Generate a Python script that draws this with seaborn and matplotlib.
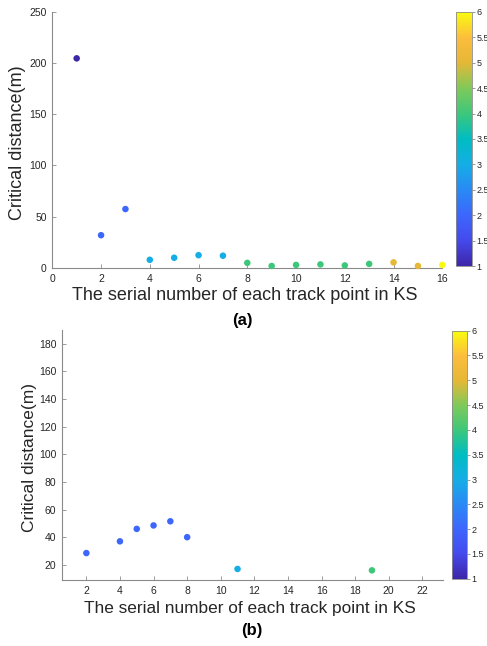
import numpy as np
import pandas as pd
import matplotlib
matplotlib.use("Agg")
import matplotlib.pyplot as plt
from matplotlib.colors import LinearSegmentedColormap, Normalize
from matplotlib.cm import ScalarMappable
import seaborn as sns

# ---- data (panel a) ----
x_a = [1, 2, 3, 4, 5, 6, 7, 8, 9, 10, 11, 12, 13, 14, 15, 16]
y_a = [204.5, 32, 57.5, 8, 10, 12.5, 12, 5, 2, 3, 3.5, 2.5, 4, 5.5, 2, 3]
c_a = [1, 2, 2, 3, 3, 3, 3, 4, 4, 4, 4, 4, 4, 5, 5, 6]

# ---- data (panel b) ----
x_b = [2, 4, 5, 6, 7, 8, 11, 19]
y_b = [28.5, 37, 46, 48.5, 51.5, 40, 17, 16]
c_b = [2, 2, 2, 2, 2, 2, 3, 4]

xticks_a = [0, 2, 4, 6, 8, 10, 12, 14, 16]
yticks_a = [0, 50, 100, 150, 200, 250]
xticks_b = [2, 4, 6, 8, 10, 12, 14, 16, 18, 20, 22]
yticks_b = [20, 40, 60, 80, 100, 120, 140, 160, 180]
cticks = [1, 1.5, 2, 2.5, 3, 3.5, 4, 4.5, 5, 5.5, 6]
ctick_labels = ["1", "1.5", "2", "2.5", "3", "3.5", "4", "4.5", "5", "5.5", "6"]

xlabel = "The serial number of each track point in KS"
ylabel = "Critical distance(m)"

sns.set_theme(style="white")
plt.rcParams['font.family'] = ['Liberation Sans', 'DejaVu Sans']

# parula-like colormap
parula_pts = [
    (0.0, (0.242, 0.150, 0.660)),
    (0.1, (0.270, 0.290, 0.930)),
    (0.2, (0.240, 0.400, 0.990)),
    (0.3, (0.160, 0.540, 0.960)),
    (0.4, (0.080, 0.680, 0.900)),
    (0.5, (0.000, 0.740, 0.760)),
    (0.6, (0.240, 0.780, 0.480)),
    (0.7, (0.500, 0.790, 0.350)),
    (0.8, (0.900, 0.720, 0.210)),
    (0.9, (0.990, 0.740, 0.240)),
    (1.0, (0.976, 0.983, 0.054)),
]
cmap = LinearSegmentedColormap.from_list("parula", parula_pts)
norm = Normalize(1, 6)

W, H = 487, 646
fig = plt.figure(figsize=(W / 100, H / 100), dpi=100)

spine_col = "#8a8a8a"
text_col = "#262626"

def style_axes(ax, fs):
    sns.despine(ax=ax)
    for s in ["left", "bottom"]:
        ax.spines[s].set_color(spine_col)
        ax.spines[s].set_linewidth(0.8)
    ax.tick_params(direction="in", length=3, width=0.6, color=spine_col,
                   labelsize=fs, labelcolor=text_col, pad=4,
                   bottom=True, left=True)

def make_cbar(rect):
    cax = fig.add_axes(rect)
    sm = ScalarMappable(norm=norm, cmap=cmap)
    cb = fig.colorbar(sm, cax=cax)
    cb.set_ticks(cticks)
    cb.set_ticklabels(ctick_labels)
    cb.outline.set_edgecolor(spine_col)
    cb.outline.set_linewidth(0.6)
    cax.tick_params(direction="out", length=2, width=0.6, color=spine_col,
                    labelsize=6.5, labelcolor=text_col, pad=1.5)
    return cb

# ---- panel a ----
ax1 = fig.add_axes([52.3 / W, 1 - 268 / H, 390 / W, (268 - 11.7) / H])
df_a = pd.DataFrame({"x": x_a, "y": y_a, "c": c_a})
sns.scatterplot(data=df_a, x="x", y="y", hue="c", palette=cmap, hue_norm=(1, 6),
                s=22, linewidth=0, legend=False, ax=ax1, clip_on=False, zorder=3)
ax1.set_xlim(0, 16)
ax1.set_ylim(0, 250)
ax1.set_xticks(xticks_a)
ax1.set_yticks(yticks_a)
style_axes(ax1, 7.5)
ax1.set_xlabel("")
ax1.set_ylabel("")
fig.text(244.7 / W, 1 - 296 / H, xlabel, ha="center", va="center", fontsize=13, color=text_col)
fig.text(18 / W, 1 - 142.5 / H, ylabel, ha="center", va="center", rotation=90, fontsize=13, color=text_col)
fig.text(242 / W, 1 - 321 / H, "(a)", ha="center", va="center", fontsize=12, fontweight="bold", color="black")
make_cbar([455.7 / W, 1 - 266.3 / H, 16 / W, (266.3 - 11.7) / H])

# ---- panel b ----
ax2 = fig.add_axes([62 / W, 1 - 580 / H, (443.3 - 62) / W, (580 - 330) / H])
df_b = pd.DataFrame({"x": x_b, "y": y_b, "c": c_b})
sns.scatterplot(data=df_b, x="x", y="y", hue="c", palette=cmap, hue_norm=(1, 6),
                s=22, linewidth=0, legend=False, ax=ax2, zorder=3)
ax2.set_xlim(0.55, 23.25)
ax2.set_ylim(9, 190)
ax2.set_xticks(xticks_b)
ax2.set_yticks(yticks_b)
style_axes(ax2, 7.5)
ax2.set_xlabel("")
ax2.set_ylabel("")
fig.text(250 / W, 1 - 609 / H, xlabel, ha="center", va="center", fontsize=12.4, color=text_col)
fig.text(30 / W, 1 - 457 / H, ylabel, ha="center", va="center", rotation=90, fontsize=12.5, color=text_col)
fig.text(252 / W, 1 - 630 / H, "(b)", ha="center", va="center", fontsize=12, fontweight="bold", color="black")
make_cbar([451.7 / W, 1 - 578.7 / H, 15 / W, (578.7 - 330.7) / H])

fig.savefig("out.png", dpi=100)
